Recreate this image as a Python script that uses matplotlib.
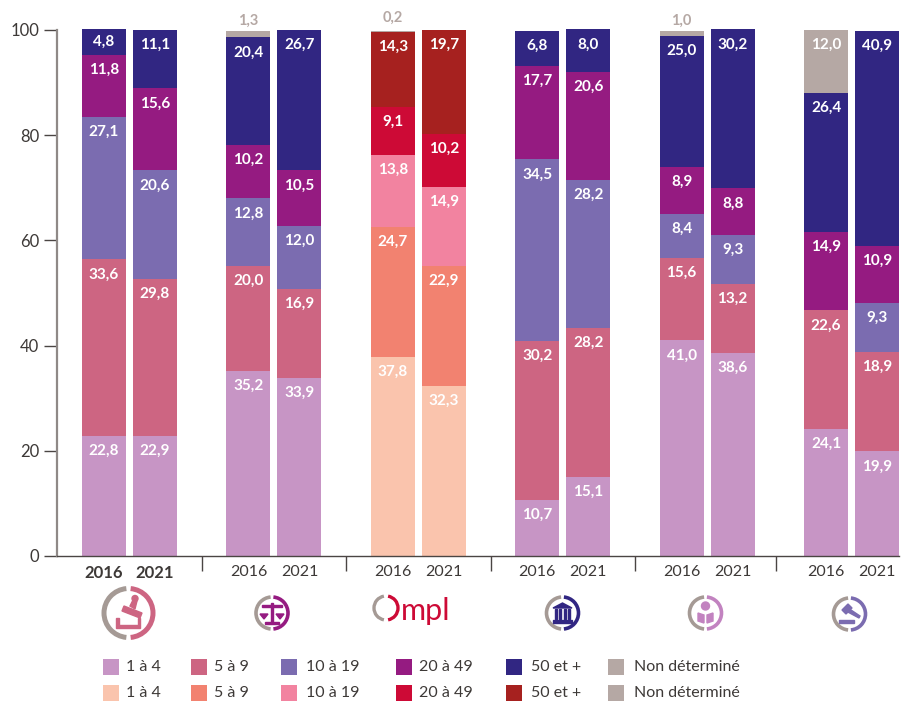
import matplotlib
matplotlib.use("Agg")
import matplotlib.pyplot as plt
from matplotlib.patches import Arc, Rectangle, Circle, Polygon

plt.rcParams["font.family"] = ["Lato", "DejaVu Sans"]

# Valeurs
years = ["2016", "2021"]
segments = ["1 à 4", "5 à 9", "10 à 19", "20 à 49", "50 et +", "Non déterminé"]

groupe1 = {"2016": [22.8, 33.6, 27.1, 11.8, 4.8, 0], "2021": [22.9, 29.8, 20.6, 15.6, 11.1, 0]}
groupe2 = {"2016": [35.2, 20.0, 12.8, 10.2, 20.4, 1.3], "2021": [33.9, 16.9, 12.0, 10.5, 26.7, 0]}
groupe3 = {"2016": [37.8, 24.7, 13.8, 9.1, 14.3, 0.2], "2021": [32.3, 22.9, 14.9, 10.2, 19.7, 0]}
groupe4 = {"2016": [10.7, 30.2, 34.5, 17.7, 6.8, 0], "2021": [15.1, 28.2, 28.2, 20.6, 8.0, 0]}
groupe5 = {"2016": [41.0, 15.6, 8.4, 8.9, 25.0, 1.0], "2021": [38.6, 13.2, 9.3, 8.8, 30.2, 0]}
groupe6 = {"2016": [24.1, 22.6, 0, 14.9, 26.4, 12.0], "2021": [19.9, 18.9, 9.3, 10.9, 40.9, 0]}
groupes = [groupe1, groupe2, groupe3, groupe4, groupe5, groupe6]

colors_main = ["#c795c5", "#cd6582", "#7b6cb0", "#951b81", "#312682", "#b5a8a4"]
colors_ompl = ["#fac4ad", "#f28270", "#f283a0", "#cd0a36", "#a6211f", "#b5a8a4"]

TXT = "#3d3937"
GRIS = "#a59a95"

# une unite x = un groupe = 144.4 px
fig = plt.figure(figsize=(9.16, 7.01), dpi=100)
ax = fig.add_axes([57 / 916, 1 - 556 / 701, (899 - 57) / 916, (556 - 30) / 701])
ax.set_xlim((57 - 129.5) / 144.4, (899 - 129.5) / 144.4)
ax.set_ylim(0, 100)

offset = 25.5 / 144.4
width = 44 / 144.4
xpos, xlab = [], []
for i, g in enumerate(groupes):
    cols = colors_ompl if i == 2 else colors_main
    for j, y in enumerate(years):
        x = i + (j * 2 - 1) * offset
        xpos.append(x)
        xlab.append(y)
        bottom = 0
        for k, v in enumerate(g[y]):
            if v == 0:
                continue
            ax.bar(x, v, width, bottom=bottom, color=cols[k], clip_on=False, zorder=2)
            top = bottom + v
            txt = f"{v:.1f}".replace(".", ",")
            if k == 5 and v < 5:
                up = 9.5 if v < 0.5 else 7
                ax.annotate(txt, (x, top), xytext=(0, up), textcoords="offset points", ha="center",
                            va="center", color="#b5a8a4", fontsize=10.5, fontweight="bold",
                            annotation_clip=False)
            else:
                h_px = v * 5.26
                dy = min(15, h_px / 2)
                ax.annotate(txt, (x, top), xytext=(0, -dy * 0.72), textcoords="offset points",
                            ha="center", va="center", color="white", fontsize=11,
                            fontweight="bold", zorder=3, annotation_clip=False)
            bottom = top

for s in ["top", "right"]:
    ax.spines[s].set_visible(False)
ax.spines["left"].set_color("#8f8987")
ax.spines["left"].set_linewidth(1.6)
ax.spines["bottom"].set_color("#4a4543")
ax.spines["bottom"].set_linewidth(1.0)
ax.spines["bottom"].set_zorder(4)

ax.set_yticks([0, 20, 40, 60, 80, 100])
ax.tick_params(axis="y", length=9.4, width=1, color="#4a4543", pad=3.5, labelsize=12, labelcolor=TXT)
ax.set_xticks(xpos)
ax.set_xticklabels(xlab)
ax.tick_params(axis="x", which="major", length=0, pad=6.5, labelsize=11.5, labelcolor=TXT)
for lab in ax.get_xticklabels()[:2]:
    lab.set_fontweight("bold")
    lab.set_fontsize(12)
ax.set_xticks([0.5, 1.5, 2.5, 3.5, 4.48], minor=True)
ax.tick_params(axis="x", which="minor", length=11, width=1, color="#4a4543")

# calque en pixels pour les icones et la legende
ov = fig.add_axes([0, 0, 1, 1], zorder=5)
ov.set_xlim(0, 916)
ov.set_ylim(701, 0)
ov.axis("off")


def ring(cx, cy, r, col, lw=3.0):
    ov.add_patch(Arc((cx, cy), 2 * r, 2 * r, theta1=95, theta2=265, color=GRIS, lw=lw))
    ov.add_patch(Arc((cx, cy), 2 * r, 2 * r, theta1=-85, theta2=85, color=col, lw=lw))


# tampon
ring(128.5, 613, 24.5, "#cd6582", 3.6)
c = "#cd6582"
ov.add_patch(Polygon([(122, 611), (124, 606), (142, 613), (140, 618)], color=c))
ov.add_patch(Polygon([(130, 606), (133, 600), (137, 601), (135, 609)], color=c))
ov.add_patch(Circle((135, 598.5), 3, color=c))
ov.add_patch(Polygon([(116, 618), (118.5, 618), (118.5, 625), (137.5, 625), (137.5, 618), (140, 618),
                      (140, 628), (116, 628)], color=c))

# balance
ring(272, 613, 16, "#951b81", 2.6)
c = "#951b81"
ov.add_patch(Rectangle((271, 603), 2, 20, color=c))
ov.add_patch(Rectangle((265, 622), 14, 2, color=c))
ov.add_patch(Rectangle((262, 605), 20, 1.5, color=c))
ov.add_patch(Polygon([(260, 614), (268, 614), (264, 619)], color=c))
ov.add_patch(Polygon([(276, 614), (284, 614), (280, 619)], color=c))

# logo Ompl
ov.add_patch(Arc((386, 608), 24, 24, theta1=100, theta2=260, color=GRIS, lw=2.4))
ov.add_patch(Arc((386, 608), 24, 24, theta1=-80, theta2=80, color="#cd0a36", lw=2.4))
ov.text(401, 620, "mpl", color="#cd0a36", fontsize=22, va="baseline", ha="left")

# banque / institution
ring(562.5, 613, 16, "#312682", 2.6)
c = "#312682"
ov.add_patch(Polygon([(553, 608), (562.5, 603), (572, 608)], color=c))
for xb in [555, 559, 563.5, 567.5]:
    ov.add_patch(Rectangle((xb, 609), 2.2, 10, color=c))
ov.add_patch(Rectangle((553, 620), 19, 2.5, color=c))

# personne
ring(705.5, 613, 16, "#c283c0", 2.6)
c = "#c283c0"
ov.add_patch(Circle((705.5, 606), 4, color=c))
ov.add_patch(Polygon([(698, 613), (704, 615), (704, 623), (698, 621)], color=c))
ov.add_patch(Polygon([(713, 613), (707, 615), (707, 623), (713, 621)], color=c))

# marteau
ring(849.5, 614, 16, "#7b6cb0", 2.6)
c = "#7b6cb0"
ov.add_patch(Polygon([(842, 610), (848, 604), (852, 608), (846, 614)], color=c))
ov.add_patch(Polygon([(848, 608), (860, 616), (859, 618), (846, 611)], color=c))
ov.add_patch(Rectangle((839, 620), 15, 3, color=c))

# legende
leg_x = [103, 191, 281, 396, 506, 608]
txt_x = [126, 214, 306, 419, 531, 634]
for row, cols in enumerate([colors_main, colors_ompl]):
    y0 = 659 + row * 26
    for k, name in enumerate(segments):
        ov.add_patch(Rectangle((leg_x[k], y0), 16, 16, color=cols[k], lw=0))
        ov.text(txt_x[k], y0 + 8, name, color=TXT, fontsize=11.5, va="center", ha="left")

fig.savefig("out.png", dpi=100)
